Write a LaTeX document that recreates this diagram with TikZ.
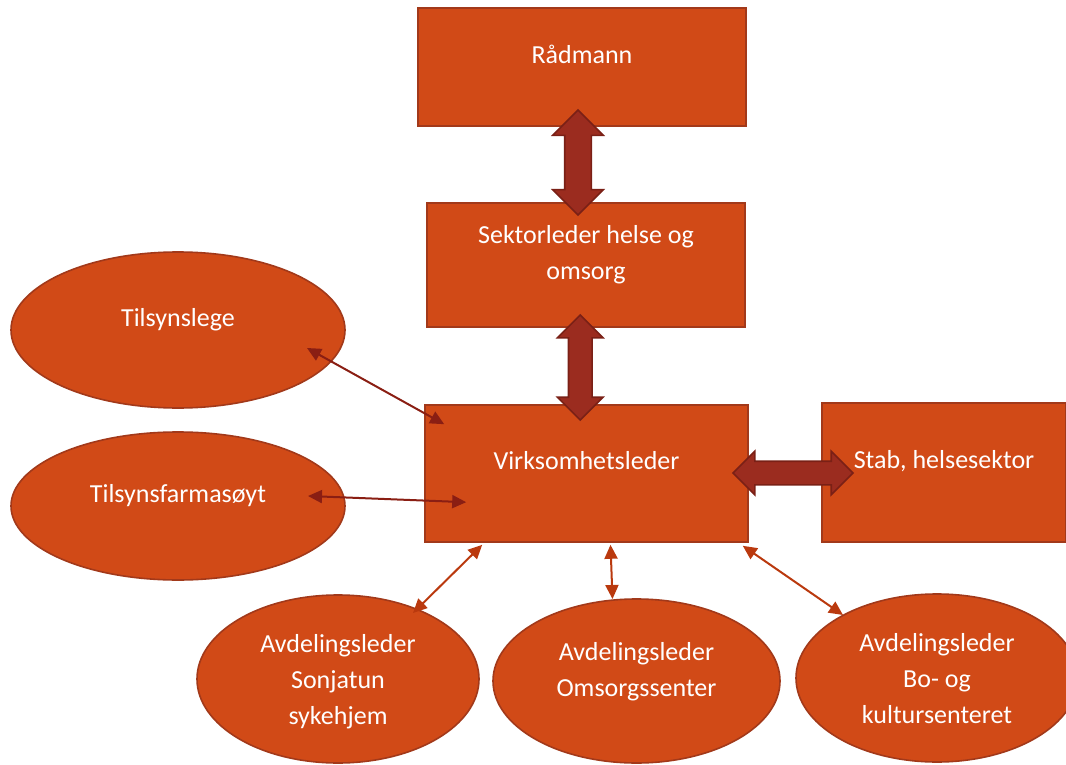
\documentclass[tikz,border=0pt]{standalone}
\usepackage{fontspec}
\setmainfont{Carlito}
\usetikzlibrary{shapes.geometric,shapes.arrows,arrows.meta,calc}
\definecolor{boxfill}{HTML}{D14A17}
\definecolor{boxline}{HTML}{A2391A}
\definecolor{fatfill}{HTML}{9B2C1F}
\definecolor{fatline}{HTML}{7A2016}
\definecolor{darkln}{HTML}{8A1E13}
\definecolor{lightln}{HTML}{BA390E}
\tikzset{
  base/.style={draw=boxline, fill=boxfill, line width=0.8pt, text=white, align=center,
    font=\fontsize{13}{18}\selectfont},
  box/.style={base, rectangle, text depth=13pt},
  oval/.style={base, ellipse},
  fat/.style 2 args={double arrow, draw=fatline, fill=fatfill, line width=0.8pt,
    inner xsep=0pt, inner ysep=#1, double arrow head extend=#2, double arrow tip angle=90},
  >={Triangle[length=7pt,width=6.5pt]}
}
\begin{document}
\begin{tikzpicture}[x=0.5pt,y=-0.5pt]
    \useasboundingbox (0,0) rectangle (1066,765);
    \node[box, minimum width=164pt, minimum height=59pt] (rad) at (582,67) {Rådmann};
    \node[box, minimum width=159pt, minimum height=62pt] (sek) at (586,265) {Sektorleder helse og\\omsorg};
    \node[box, minimum width=161.5pt, minimum height=68.5pt] (virk) at (586.5,473.5) {Virksomhetsleder};
    \node[box, minimum width=122pt, minimum height=69.5pt] (stab) at (944,472.5) {Stab, helsesektor};
    \node[oval, text depth=13pt, minimum width=167pt, minimum height=78pt] (lege) at (178,330) {Tilsynslege};
    \node[oval, text depth=13pt, minimum width=167pt, minimum height=74pt] (farm) at (178,506) {Tilsynsfarmasøyt};
    \node[oval, text depth=0pt, minimum width=141pt, minimum height=84pt] (sonja) at (338,679) {Avdelingsleder\\Sonjatun\\sykehjem};
    \node[oval, text depth=12pt, minimum width=143.5pt, minimum height=82pt] (omsorg) at (636.5,681) {Avdelingsleder\\Omsorgssenter};
    \node[oval, text depth=0pt, minimum width=141pt, minimum height=84pt] (bo) at (937,678) {Avdelingsleder\\Bo- og\\kultursenteret};
    \node[fat={6.25pt}{6pt}, rotate=90, minimum height=52.5pt] (ar1) at ($(rad.south)!0.5!(sek.north)+(-6,-2)$) {};
    \node[fat={5.5pt}{5.5pt}, rotate=90, minimum height=52.5pt] (ar2) at ($(sek.south)!0.5!(virk.north)+(-6,1.5)$) {};
    \node[fat={5.5pt}{5pt}, minimum height=60pt] (ar3) at ($(virk.east)!0.5!(stab.west)+(8,0)$) {};
    \draw [<->, darkln, line width=1pt] ($(lege.center)+(129,18)$) -- ($(virk.north west)+(20,20)$);
    \draw [<->, darkln, line width=1pt] ($(farm.center)+(130,-10)$) -- ($(virk.north west)+(42,98)$);
    \draw [<->, lightln, line width=1pt] ($(virk.south west)+(58,2)$) -- ($(sonja.center)+(75,-66)$);
    \draw [<->, lightln, line width=1pt] ($(virk.south)+(24,2)$) -- ($(omsorg.center)+(-24,-82)$);
    \draw [<->, lightln, line width=1pt] ($(virk.south east)+(-6,3)$) -- ($(bo.center)+(-94,-63)$);
\end{tikzpicture}
\end{document}
